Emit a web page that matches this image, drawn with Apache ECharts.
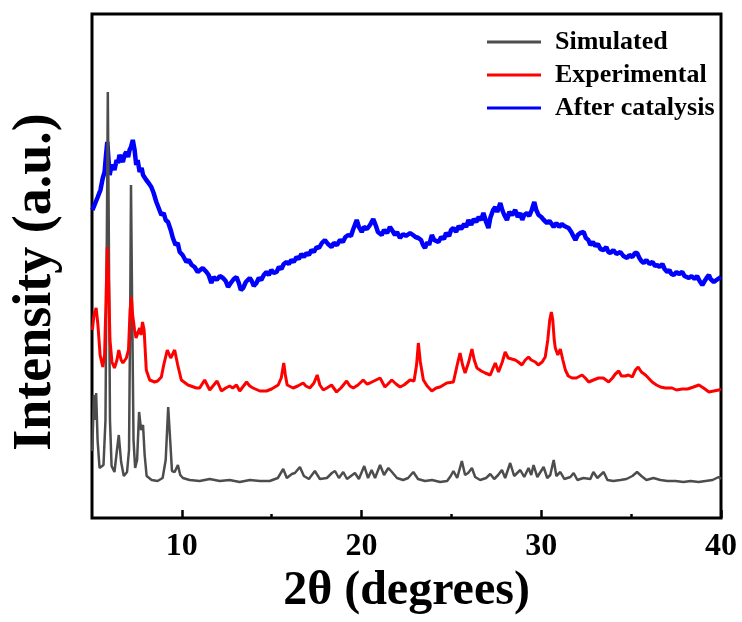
<!DOCTYPE html>
<html>
<head>
<meta charset="utf-8">
<script src="https://cdn.jsdelivr.net/npm/echarts@6/dist/echarts.min.js"></script>
<style>
  html, body { margin: 0; padding: 0; background: #fff; }
  #chart { width: 742px; height: 622px; }
</style>
</head>
<body>
<div id="chart"></div>
<script>
// ---- Data (2θ in degrees, intensity in arbitrary units) ----
const seriesNames = ['Simulated', 'Experimental', 'After catalysis'];
const xTickLabels = [10, 20, 30, 40];
const xMinorTicks = [15, 25, 35];

const simulated = [
  [5.02,67],[5.10,123],[5.16,98],[5.23,125],[5.31,78],[5.42,50],[5.53,48],[5.64,53],[5.75,98],[5.84,318],
  [5.88,426],[5.93,298],[6.00,98],[6.09,52],[6.25,46],[6.39,68],[6.49,83],[6.62,56],[6.77,42],[6.95,46],
  [7.06,68],[7.13,218],[7.17,333],[7.23,218],[7.31,78],[7.40,50],[7.51,58],[7.62,106],[7.73,88],[7.84,93],
  [7.93,63],[8.04,42],[8.32,38],[8.65,37],[8.93,40],[9.10,58],[9.24,111],[9.35,78],[9.45,47],[9.60,46],
  [9.78,53],[9.91,43],[10.06,40],[10.43,38],[10.99,37],[11.55,39],[12.11,37],[12.66,38],[13.22,36],[13.78,38],
  [14.34,37],[14.89,37],[15.34,40],[15.64,49],[15.84,40],[16.12,44],[16.29,45],[16.57,51],[16.79,42],[17.07,39],
  [17.40,47],[17.68,39],[18.07,40],[18.35,45],[18.52,47],[18.74,40],[18.98,46],[19.19,39],[19.63,45],[19.85,39],
  [20.15,52],[20.36,40],[20.56,48],[20.75,40],[21.03,53],[21.25,43],[21.49,50],[21.69,46],[21.97,40],[22.31,38],
  [22.59,40],[22.88,46],[23.14,39],[23.53,37],[23.92,38],[24.37,36],[24.76,37],[24.96,42],[25.11,47],[25.32,40],
  [25.58,57],[25.76,43],[25.93,45],[26.14,50],[26.32,41],[26.60,38],[26.93,40],[27.16,44],[27.38,39],[27.60,43],
  [27.81,48],[27.99,40],[28.27,55],[28.49,42],[28.83,48],[29.05,41],[29.29,50],[29.44,43],[29.57,53],[29.78,41],
  [30.13,51],[30.33,40],[30.50,43],[30.69,58],[30.84,42],[31.06,46],[31.28,39],[31.62,41],[31.80,45],[32.01,38],
  [32.34,40],[32.73,39],[32.90,46],[33.12,40],[33.47,46],[33.68,38],[34.01,37],[34.40,38],[34.74,39],[35.07,42],
  [35.33,46],[35.57,42],[35.85,38],[36.24,40],[36.63,38],[37.02,37],[37.47,37],[37.91,36],[38.31,37],[38.75,36],
  [39.14,37],[39.53,38],[39.87,41],[40.00,39]
];

const experimental = [
  [5.02,188],[5.11,203],[5.23,210],[5.33,193],[5.45,163],[5.60,151],[5.70,163],[5.78,218],[5.85,271],[5.92,238],
  [6.00,178],[6.11,156],[6.25,150],[6.39,158],[6.49,168],[6.62,158],[6.72,155],[6.91,160],[7.03,168],[7.12,208],
  [7.19,221],[7.26,203],[7.37,188],[7.45,180],[7.55,182],[7.65,190],[7.73,183],[7.81,196],[7.90,188],[8.02,148],
  [8.21,138],[8.48,136],[8.65,137],[8.86,141],[8.99,153],[9.19,168],[9.38,160],[9.60,168],[9.77,153],[9.97,138],
  [10.34,133],[10.81,130],[10.99,130],[11.27,138],[11.55,128],[11.96,137],[12.20,127],[12.44,130],[12.66,132],[12.83,130],
  [13.04,133],[13.22,127],[13.60,136],[13.78,132],[13.96,130],[14.34,127],[14.71,127],[14.99,129],[15.36,133],[15.53,140],
  [15.67,155],[15.76,143],[15.86,133],[16.19,130],[16.45,132],[16.75,135],[16.90,132],[17.12,130],[17.35,135],[17.53,143],
  [17.68,133],[17.87,128],[18.07,130],[18.33,133],[18.61,126],[18.85,130],[19.17,137],[19.35,132],[19.54,130],[19.80,133],
  [20.09,138],[20.30,134],[20.47,135],[20.69,137],[21.03,140],[21.30,131],[21.47,134],[21.68,138],[21.92,134],[22.14,131],
  [22.36,133],[22.70,138],[22.92,137],[23.06,153],[23.16,175],[23.27,156],[23.44,138],[23.65,132],[23.91,127],[24.15,130],
  [24.37,131],[24.74,135],[25.11,136],[25.21,138],[25.32,153],[25.48,165],[25.62,153],[25.76,145],[25.96,156],[26.14,169],
  [26.27,158],[26.42,150],[26.66,147],[26.88,145],[27.16,143],[27.32,150],[27.44,155],[27.62,146],[27.83,156],[27.99,166],
  [28.16,160],[28.27,158],[28.55,158],[28.72,156],[28.92,153],[29.11,158],[29.29,161],[29.44,158],[29.67,156],[29.83,153],
  [30.05,156],[30.22,161],[30.36,178],[30.47,198],[30.56,206],[30.64,198],[30.72,178],[30.78,170],[30.92,163],[31.06,169],
  [31.20,158],[31.34,148],[31.50,142],[31.71,140],[31.95,140],[32.27,143],[32.45,140],[32.64,136],[32.90,138],[33.19,140],
  [33.45,140],[33.75,136],[33.96,140],[34.12,144],[34.31,147],[34.46,142],[34.68,142],[34.85,143],[35.06,141],[35.24,148],
  [35.39,151],[35.57,146],[35.80,143],[35.96,140],[36.17,136],[36.41,133],[36.63,131],[36.91,130],[37.28,130],[37.52,128],
  [37.84,129],[38.14,129],[38.47,131],[38.77,133],[39.03,130],[39.33,126],[39.59,127],[39.88,128],[40.00,129]
];

const afterCatalysis = [
  [5.02,308],[5.14,313],[5.32,321],[5.47,328],[5.60,340],[5.70,346],[5.78,363],[5.85,376],[5.92,358],[5.98,343],
  [6.06,350],[6.16,353],[6.25,348],[6.37,358],[6.45,355],[6.53,363],[6.62,360],[6.72,356],[6.81,363],[6.91,366],
  [7.01,361],[7.09,368],[7.17,371],[7.27,378],[7.37,368],[7.46,353],[7.54,358],[7.65,346],[7.76,350],[7.84,343],
  [8.02,338],[8.15,335],[8.30,331],[8.43,325],[8.58,316],[8.71,310],[8.86,303],[8.99,305],[9.10,298],[9.23,296],
  [9.38,288],[9.50,280],[9.65,273],[9.77,275],[9.88,266],[10.04,263],[10.25,256],[10.38,258],[10.55,253],[10.71,251],
  [10.88,246],[10.99,248],[11.16,250],[11.37,246],[11.49,243],[11.64,235],[11.77,241],[11.94,238],[12.11,242],[12.29,240],
  [12.44,237],[12.57,231],[12.72,235],[12.89,239],[13.04,241],[13.17,235],[13.28,228],[13.41,230],[13.56,236],[13.67,238],
  [13.78,240],[13.89,237],[14.00,232],[14.15,235],[14.28,240],[14.42,238],[14.56,243],[14.71,246],[14.84,243],[14.98,248],
  [15.12,245],[15.27,246],[15.40,251],[15.54,249],[15.67,254],[15.82,256],[15.95,254],[16.09,258],[16.23,256],[16.38,261],
  [16.51,259],[16.65,264],[16.79,261],[16.94,265],[17.07,263],[17.21,268],[17.35,266],[17.50,271],[17.63,270],[17.79,275],
  [17.96,278],[18.13,274],[18.33,271],[18.46,275],[18.63,273],[18.80,278],[18.96,276],[19.10,281],[19.26,283],[19.41,282],
  [19.52,288],[19.73,298],[19.85,291],[20.01,286],[20.13,291],[20.30,289],[20.47,293],[20.65,299],[20.80,292],[20.91,286],
  [21.12,283],[21.25,288],[21.42,285],[21.58,291],[21.69,288],[21.86,283],[21.97,286],[22.14,280],[22.31,284],[22.47,282],
  [22.70,285],[22.86,283],[23.00,281],[23.16,280],[23.31,278],[23.42,273],[23.53,270],[23.67,276],[23.76,273],[23.91,283],
  [24.04,278],[24.15,280],[24.28,276],[24.43,281],[24.59,279],[24.70,285],[24.87,282],[24.98,288],[25.11,290],[25.26,286],
  [25.40,292],[25.54,289],[25.71,294],[25.82,291],[25.95,298],[26.10,293],[26.24,299],[26.38,296],[26.52,301],[26.65,298],
  [26.78,305],[26.93,296],[27.06,290],[27.16,300],[27.32,308],[27.44,311],[27.55,306],[27.72,315],[27.83,308],[27.94,303],
  [28.09,298],[28.22,306],[28.38,303],[28.55,308],[28.69,301],[28.83,305],[28.94,298],[29.05,303],[29.20,305],[29.33,302],
  [29.47,308],[29.61,316],[29.72,308],[29.85,303],[30.00,301],[30.14,298],[30.32,295],[30.45,297],[30.58,294],[30.69,291],
  [30.84,295],[31.00,291],[31.14,294],[31.28,292],[31.52,290],[31.67,286],[31.78,282],[31.90,278],[32.03,283],[32.17,285],
  [32.36,286],[32.48,280],[32.62,278],[32.73,273],[32.87,276],[33.01,272],[33.15,274],[33.29,269],[33.47,268],[33.62,271],
  [33.73,266],[33.85,265],[34.01,268],[34.18,264],[34.40,266],[34.57,262],[34.78,260],[34.90,263],[35.07,261],[35.21,265],
  [35.33,265],[35.46,260],[35.57,257],[35.70,255],[35.85,258],[36.02,254],[36.19,256],[36.33,252],[36.45,253],[36.58,251],
  [36.74,254],[36.86,249],[37.01,246],[37.13,248],[37.24,244],[37.37,243],[37.52,246],[37.66,244],[37.84,246],[37.97,242],
  [38.08,244],[38.21,240],[38.36,242],[38.53,239],[38.67,242],[38.81,237],[38.96,233],[39.09,237],[39.20,240],[39.33,243],
  [39.42,239],[39.60,236],[39.75,238],[39.86,240],[39.99,241]
];

// ---- Chart ----
const FONT = "'Times New Roman', 'Liberation Serif', 'DejaVu Serif', serif";
const chart = echarts.init(document.getElementById('chart'), null, { renderer: 'canvas' });

chart.setOption({
  animation: false,
  backgroundColor: '#ffffff',
  grid: {
    left: 92, right: 21, top: 14, bottom: 104,
    show: true, borderColor: '#000', borderWidth: 3, backgroundColor: 'transparent'
  },
  legend: {
    orient: 'vertical',
    left: 487, top: 29,
    padding: 0,
    itemWidth: 54, itemHeight: 3, itemGap: 7,
    icon: 'rect',
    data: seriesNames,
    textStyle: {
      fontFamily: FONT, fontWeight: 'bold', fontSize: 26, color: '#000',
      lineHeight: 26, padding: [0, 0, 0, 9]
    }
  },
  xAxis: [
    {
      type: 'value', min: 5, max: 40,
      axisLine: { show: false },
      splitLine: { show: false },
      axisTick: { show: true, inside: true, length: 8, lineStyle: { color: '#000', width: 2.5 }, customValues: xTickLabels },
      axisLabel: {
        show: true, customValues: xTickLabels, margin: 13,
        fontFamily: FONT, fontWeight: 'bold', fontSize: 32, color: '#000'
      },
      name: '2θ (degrees)',
      nameLocation: 'middle',
      nameGap: 43,
      nameTextStyle: { fontFamily: FONT, fontWeight: 'bold', fontSize: 48, color: '#000' }
    },
    {
      type: 'value', min: 5, max: 40, gridIndex: 0, position: 'bottom',
      axisLine: { show: false },
      splitLine: { show: false },
      axisLabel: { show: false },
      axisTick: { show: true, inside: true, length: 4, lineStyle: { color: '#000', width: 2.5 }, customValues: xMinorTicks }
    }
  ],
  yAxis: {
    type: 'value', min: 0, max: 504,
    axisLine: { show: false },
    axisTick: { show: false },
    axisLabel: { show: false },
    splitLine: { show: false },
    name: 'Intensity (a.u.)',
    nameLocation: 'middle',
    nameGap: 29,
    nameTextStyle: { fontFamily: FONT, fontWeight: 'bold', fontSize: 54, color: '#000', padding: [0, 32, 0, 0] }
  },
  series: [
    {
      name: seriesNames[0], type: 'line', data: simulated, symbol: 'none', z: 3,
      lineStyle: { color: '#4d4d4d', width: 2.5 }, itemStyle: { color: '#4d4d4d' }
    },
    {
      name: seriesNames[1], type: 'line', data: experimental, symbol: 'none', z: 4,
      lineStyle: { color: '#ff0000', width: 3 }, itemStyle: { color: '#ff0000' }
    },
    {
      name: seriesNames[2], type: 'line', data: afterCatalysis, symbol: 'none', z: 2,
      lineStyle: { color: '#0000ff', width: 4.5 }, itemStyle: { color: '#0000ff' }
    }
  ]
});
</script>
</body>
</html>
